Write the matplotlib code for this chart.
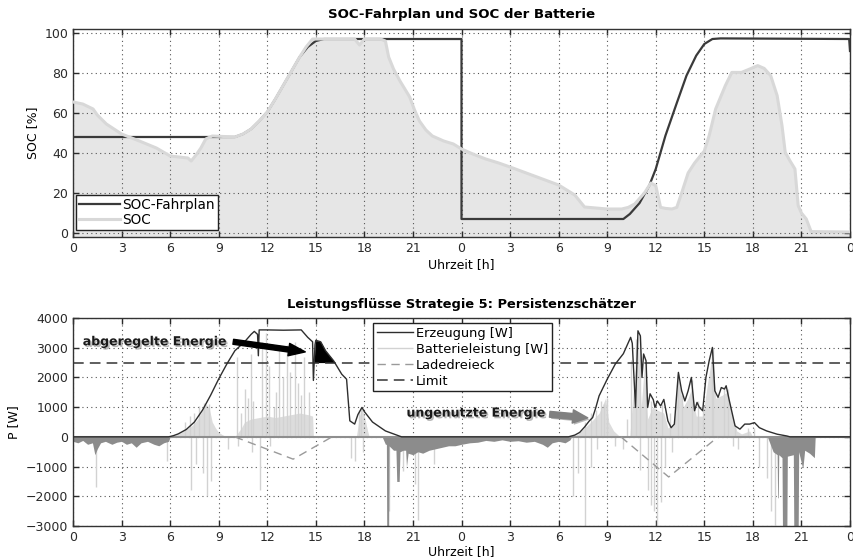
import numpy as np
import matplotlib.pyplot as plt
import matplotlib.patheffects as pe

#### time axis: two days in hours
hour_ticks = np.arange(0, 49, 3)
hour_labels = [str(h % 24) for h in hour_ticks]

#### SOC schedule (Fahrplan) and battery SOC [%]
fahr_t = [0, 10, 10.5, 11, 11.5, 12, 12.5, 13, 13.5, 14, 14.5, 15, 15.5, 16, 24, 24,
          34, 34.4, 35, 35.6, 36, 36.6, 37.3, 37.9, 38.5, 39, 39.5, 40, 47.95, 48]
fahr_v = [48, 48, 49.5, 52, 56, 60.5, 67, 74, 81, 88, 93, 96, 97, 97, 97, 7,
          7, 9.5, 15, 23.7, 32, 48.7, 65, 78.7, 88.7, 94.5, 97, 97.3, 97, 91]

soc_t = [0, 0.6, 1.24, 1.5, 2.06, 3, 4.1, 5.15, 6, 7.1, 7.3, 7.6, 7.9, 8.2, 8.6, 10,
         10.5, 11, 11.5, 12, 12.5, 13, 13.5, 14, 14.4, 14.8, 17.4, 17.7, 18, 19, 19.3,
         19.5, 19.8, 20.2, 20.8, 21.1, 21.4, 21.8, 22.2, 22.9, 23.5, 24, 24.7, 25.5,
         26.3, 27, 28, 29, 30, 31, 31.6, 33, 33.9, 34.3, 34.7, 35.3, 35.7, 36, 36.3,
         36.6, 37, 37.3, 37.6, 38, 38.4, 39, 39.3, 39.7, 40.3, 40.7, 41.3, 41.9, 42.3,
         42.7, 43.1, 43.5, 43.8, 44, 44.3, 44.6, 44.8, 45, 45.3, 45.6, 48]
soc_v = [65.5, 64.5, 62, 59, 54.5, 49.5, 46, 42.5, 38.5, 37.5, 36, 39, 42.5, 47, 48.5, 48,
         49.5, 52, 56, 60.5, 67, 74, 81, 88, 93, 97, 97, 94, 97, 97, 96,
         88, 82, 76, 68, 61.5, 56, 51.5, 48.5, 46, 44.5, 42, 39.5, 37,
         35, 33, 30, 27, 24, 19, 13, 12, 12, 12.8, 14.5, 20, 25, 23.7, 12.8,
         12.3, 12, 12.8, 20, 30, 35, 41, 48.7, 62, 73.7, 80.3, 80.3, 82.3, 83.7,
         82.3, 78.7, 68.7, 53.7, 40.3, 36, 32, 13.7, 10, 7, 0.7, 0.5]

#### power flows [W]
ezg_t = [0, 5.9, 6.2, 6.5, 7.0, 7.5, 8.0, 8.5, 9.0, 9.5, 10.0, 10.6, 11.0, 11.2, 11.4,
         11.45, 11.5, 12.0, 13.0, 14.1, 14.5, 14.8, 14.85, 14.95, 15.0, 15.3, 15.6, 16.1,
         16.6, 16.9, 17.1, 17.4, 17.6, 17.85, 18.0, 18.5, 19.3, 20.3,
         30.6, 31.0, 31.3, 31.6, 31.9, 32.1, 32.3, 32.5, 33.0, 33.5, 34.0, 34.45, 34.55,
         34.75, 34.9, 35.05, 35.15, 35.25, 35.4, 35.5, 35.65, 35.85, 35.95, 36.1, 36.3,
         36.5, 36.75, 36.95, 37.15, 37.4, 37.6, 37.8, 38.0, 38.2, 38.4, 38.55, 38.7, 38.9,
         39.1, 39.3, 39.5, 39.65, 39.85, 40.05, 40.25, 40.35, 40.55, 40.9, 41.2, 41.5,
         41.8, 42.1, 42.4, 42.85, 43.5, 44.1, 44.3, 48]
ezg_p = [0, 0, 40, 100, 250, 500, 900, 1400, 1950, 2450, 2900, 3200, 3450, 3550, 3450,
         2730, 3600, 3600, 3590, 3600, 3350, 3200, 1900, 3100, 3250, 3200, 2900, 2560,
         2110, 1940, 540, 430, 750, 990, 850, 500, 200, 0,
         0, 60, 150, 330, 540, 650, 990, 1380, 1940, 2450, 2800, 3350, 3150,
         990, 3570, 3400, 2000, 2790, 2560, 990, 1450, 1250, 990, 1210, 1040,
         1260, 540, 310, 430, 2170, 1550, 1210, 1550, 2000, 880, 1160, 990, 880,
         2000, 2560, 3010, 1550, 1330, 1660, 1610, 1720, 1210, 370, 260, 430,
         430, 480, 310, 200, 90, 30, 0, 0]

# battery charging (light area)
batfill_t = [6.0, 6.3, 6.6, 7.0, 7.4, 7.7, 8.0, 8.2, 8.4, 8.6, 8.8, 9.0, 9.3, 9.6, 10.0,
             10.4, 10.6, 11.0, 11.5, 12.0, 12.5, 13.0, 13.5, 14.0, 14.5, 14.8, 14.85,
             17.5, 17.7, 17.85, 18.0, 18.2, 18.3, 30.8, 31.2, 31.6, 32.0, 32.5, 32.9,
             33.1, 33.4, 33.8, 34.4, 34.6, 34.9, 35.1, 35.3, 35.5, 35.8, 36.1, 36.5,
             36.75, 37.1, 37.4, 37.7, 38.0, 38.2, 38.5, 38.9, 39.2, 39.5, 39.7, 40.1,
             40.4, 40.7, 41.0, 41.3, 41.8, 42.0]
batfill_p = [0, 50, 120, 250, 400, 600, 900, 1100, 1000, 500, 300, 150, 50, 0, 0,
             300, 500, 600, 650, 700, 650, 700, 750, 800, 750, 700, 0,
             0, 700, 950, 700, 200, 0, 0, 100, 300, 500, 800, 1300,
             500, 200, 0, 0, 1500, 3400, 1000, 2400, 600, 1000, 900, 800,
             300, 400, 2000, 1000, 1300, 1600, 700, 700, 1800, 2800, 1300, 1400,
             1500, 800, 200, 100, 200, 0]

# single battery power peaks
spike_t = [6.9, 7.2, 7.5, 7.8, 8.1, 8.4, 10.1, 10.35, 10.6, 10.8, 11.0, 11.1, 11.7,
           11.9, 12.1, 12.4, 12.55, 12.7, 13.0, 13.2, 13.4, 13.7, 13.9, 14.1, 14.3,
           14.6, 17.65, 17.8,
           31.6, 32.0, 32.3, 32.6, 32.8, 33.0, 34.2, 34.45, 34.8, 35.0, 35.4, 35.7,
           36.4, 36.9, 37.35, 37.6, 38.25, 38.6, 38.9, 39.45, 39.55, 40.2, 40.45, 40.9,
           41.7, 42.1,
           1.45, 5.8, 7.3, 7.6, 8.0, 8.3, 8.5, 9.6, 10.2, 11.05, 11.55, 12.2, 17.2,
           17.45, 17.9, 19.55, 20.4, 21.1, 21.3, 22.3,
           30.9, 31.2, 31.6, 32.0, 32.4, 33.5, 34.0, 35.0, 35.5, 35.7, 35.9, 36.1,
           36.3, 36.6, 37.0, 40.8, 41.1, 42.4, 42.85, 43.15, 43.35]
spike_p = [500, 700, 800, 1050, 1150, 1100, 2700, 800, 1600, 1300, 2800, 1200, 3200,
           3500, 2400, 1000, 1500, 3000, 2000, 3100, 2200, 3200, 1800, 1400, 2700,
           1500, 900, 1000,
           500, 800, 900, 1200, 1100, 1300, 600, 2600, 3300, 3400, 2500, 1200,
           1100, 800, 2100, 1400, 1900, 1200, 900, 2900, 3000, 1600, 1600, 400,
           300, 300,
           -1700, -800, -1800, -900, -1200, -2000, -1500, -400, -300, -500, -1800,
           -300, -700, -800, -500, -2500, -1150, -1600, -2800, -900,
           -2000, -1200, -3000, -1000, -400, -300, -400, -1100, -1800, -2300, -2500,
           -3000, -2200, -1000, -500, -300, -400, -1000, -1400, -2500, -2950]

# battery discharge at night (dark area)
night_t = [0.0, 0.3, 0.6, 0.9, 1.2, 1.35, 1.5, 1.7, 2.0, 2.4, 2.7, 3.0, 3.3, 3.6, 3.9,
           4.2, 4.6, 5.0, 5.3, 5.6, 5.9, 6.0,
           19.1, 19.3, 19.36, 19.38, 19.5, 19.52, 19.8, 19.95, 20.0, 20.15, 20.2, 20.4,
           20.55, 20.6, 20.7, 21.0, 21.3, 21.6, 22.0, 22.4, 22.8, 23.2, 23.6, 24.0,
           24.5, 25.0, 25.5, 26.0, 26.5, 27.0, 27.5, 28.0, 28.5, 29.0, 29.3, 29.6,
           30.0, 30.4, 30.7, 30.8,
           42.9, 43.25, 43.5, 43.53, 43.57, 43.6, 43.8, 43.83, 44.1, 44.13, 44.5,
           44.53, 44.8, 44.83, 45.05, 45.1, 45.2, 45.5, 45.8, 45.85]
night_p = [-150, -200, -120, -250, -200, -600, -400, -200, -150, -250, -180, -150, -250,
           -200, -350, -200, -150, -250, -300, -200, -150, 0,
           0, -250, -250, -3200, -3200, -300, -450, -450, -1500, -1500, -500, -450,
           -450, -1000, -550, -600, -500, -550, -450, -400, -350, -300, -300, -250,
           -200, -180, -120, -150, -100, -150, -130, -180, -150, -250, -350, -200,
           -150, -200, -100, 0,
           0, -500, -600, -2050, -2050, -600, -700, -3200, -3200, -650, -600,
           -3200, -3200, -500, -1000, -1000, -450, -550, -700, 0]

# charging triangles and feed-in limit
lade_t = [10, 13.6, 16, np.nan, 33.85, 36.8, 39.85]
lade_p = [0, -750, 0, np.nan, 0, -1350, 0]
limit_w = 2500


def style(ax):
    ax.set_xlim(0, 48)
    ax.set_xticks(hour_ticks)
    ax.set_xticklabels(hour_labels)
    ax.tick_params(direction='in', top=True, right=True, length=4, width=1,
                   labelsize=9, colors='#2a2a2a', pad=3.5)
    ax.grid(True, linestyle=(0, (1, 3)), color='#555555', linewidth=0.8)
    for s in ax.spines.values():
        s.set_color('#333333')
        s.set_linewidth(1.0)


plt.rcParams['font.family'] = 'DejaVu Sans'
fig = plt.figure(figsize=(8.54, 5.6), dpi=100)

#### top: SOC
ax1 = fig.add_axes([0.0855, 0.5768, 0.9098, 0.3714])
style(ax1)
ax1.set_ylim(-2, 102)
ax1.set_yticks(range(0, 101, 20))
ax1.fill_between(soc_t, soc_v, -2, color='#e6e6e6', lw=0, zorder=1)
ax1.plot(fahr_t, fahr_v, color='#3a3a3a', lw=1.6, label='SOC-Fahrplan', zorder=3)
ax1.plot(soc_t, soc_v, color='#d8d8d8', lw=2.2, label='SOC', zorder=4)
ax1.set_title('SOC-Fahrplan und SOC der Batterie', fontsize=9.6, fontweight='bold', pad=8)
ax1.set_xlabel('Uhrzeit [h]', fontsize=9, labelpad=2.5)
ax1.set_ylabel('SOC [%]', fontsize=9)
leg1 = ax1.legend(loc='lower left', bbox_to_anchor=(0.004, 0.035), fontsize=9.8,
                  fancybox=False, edgecolor='#222222', framealpha=1, handlelength=3.0,
                  borderaxespad=0, labelspacing=0.1, borderpad=0.2, handletextpad=0.2)
leg1.get_frame().set_linewidth(1)
leg1.set_zorder(6)

#### bottom: power flows
ax2 = fig.add_axes([0.0855, 0.0607, 0.9098, 0.3714])
style(ax2)
ax2.set_ylim(-3000, 4000)
ax2.set_yticks(range(-3000, 4001, 1000))
ax2.fill_between(batfill_t, batfill_p, 0, color='#dcdcdc', lw=0, zorder=1.5)
bat = ax2.vlines(spike_t, 0, spike_p, color='#d2d2d2', lw=1, zorder=1.6,
                 label='Batterieleistung [W]')
ax2.fill_between(night_t, night_p, 0, color='#8c8c8c', lw=0, zorder=1.7)
ax2.axhline(0, color='#8e8e8e', lw=1.5, zorder=1.8)
ezg_arr = np.array(ezg_t)
ezg_val = np.array(ezg_p)
ax2.fill_between(ezg_arr, ezg_val, limit_w,
                 where=(ezg_arr >= 14.95) & (ezg_arr <= 16.7) & (ezg_val > limit_w),
                 interpolate=True, color='black', lw=0, zorder=3)
ezg, = ax2.plot(ezg_t, ezg_p, color='#2e2e2e', lw=1, zorder=3.2, label='Erzeugung [W]')
lade, = ax2.plot(lade_t, lade_p, color='#9a9a9a', lw=1, dashes=(6, 4), zorder=3.1,
                 label='Ladedreieck')
lim = ax2.axhline(limit_w, color='#333333', lw=1.1, dashes=(7, 4), zorder=3.1,
                  label='Limit')
ax2.set_title('Leistungsflüsse Strategie 5: Persistenzschätzer', fontsize=9.4,
              fontweight='bold', pad=7)
ax2.set_xlabel('Uhrzeit [h]', fontsize=9, labelpad=1)
ax2.set_ylabel('P [W]', fontsize=9)
leg2 = ax2.legend([ezg, bat, lade, lim], [ezg.get_label(), bat.get_label(),
                  lade.get_label(), lim.get_label()],
                  loc='upper left', bbox_to_anchor=(0.386, 0.976), fontsize=9.4,
                  fancybox=False, edgecolor='#222222', framealpha=1, handlelength=2.8,
                  borderaxespad=0, labelspacing=0.22, borderpad=0.3, handletextpad=0.2)
leg2.get_frame().set_linewidth(1)
leg2.set_zorder(6)

shadow = [pe.SimplePatchShadow(offset=(1.2, -1.2), shadow_rgbFace='#888888', alpha=0.6),
          pe.Normal()]
ax2.text(0.6, 3200, 'abgeregelte Energie', fontsize=9, fontweight='bold',
         va='center', ha='left', color='#1a1a1a', path_effects=shadow, zorder=5)
ax2.annotate('', xy=(14.35, 2860), xytext=(9.9, 3200), zorder=5,
             arrowprops=dict(arrowstyle='simple,head_width=0.75,head_length=1.0,tail_width=0.3',
                             color='black', mutation_scale=12, shrinkA=0, shrinkB=0))
ax2.text(20.6, 800, 'ungenutzte Energie', fontsize=9, fontweight='bold',
         va='center', ha='left', color='#1a1a1a', path_effects=shadow, zorder=5)
ax2.annotate('', xy=(31.8, 640), xytext=(29.45, 760), zorder=5,
             arrowprops=dict(arrowstyle='simple,head_width=0.8,head_length=0.9,tail_width=0.35',
                             color='#808080', mutation_scale=12, shrinkA=0, shrinkB=0,
                             path_effects=shadow))

fig.savefig('out.png', dpi=100)
